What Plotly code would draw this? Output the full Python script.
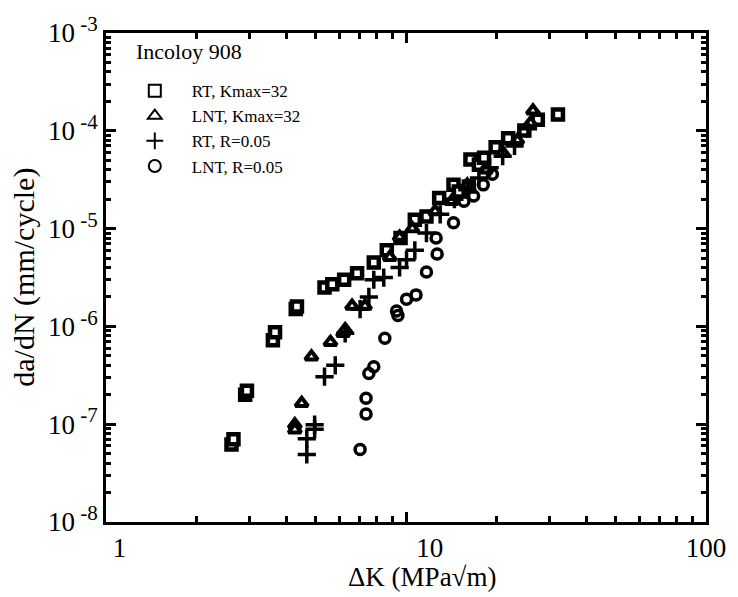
import plotly.graph_objects as go

# RT, Kmax=32 (squares)
sq_dk = [2.62, 2.66, 2.91, 2.95, 3.60, 3.66, 4.29, 4.33, 5.35, 5.68, 6.22, 6.87, 7.81, 8.63, 9.59, 10.7, 11.7, 12.9,
         14.4, 15.0, 16.2, 16.4, 17.5, 18.2, 19.9, 21.9, 24.8, 27.5, 32.1]
sq_da = [6.2e-8, 7.0e-8, 2.0e-7, 2.2e-7, 7.2e-7, 8.7e-7, 1.51e-6, 1.6e-6, 2.5e-6, 2.7e-6, 3.0e-6, 3.5e-6, 4.5e-6,
         6.0e-6, 8.0e-6, 1.23e-5, 1.33e-5, 2.06e-5, 2.8e-5, 2.4e-5, 2.7e-5, 5.1e-5, 4.5e-5, 5.3e-5, 6.8e-5, 8.4e-5,
         1.01e-4, 1.3e-4, 1.47e-4]

# LNT, Kmax=32 (triangles)
tr_dk = [4.26, 4.26, 4.49, 4.84, 5.60, 6.17, 6.27, 6.61, 7.30, 8.83, 9.52, 10.5, 12.5, 14.2, 16.0, 18.5, 21.0, 23.5,
         26.0, 26.5]
tr_da = [9.9e-8, 8.8e-8, 1.64e-7, 4.9e-7, 6.9e-7, 8.5e-7, 9.3e-7, 1.62e-6, 1.62e-6, 5.1e-6, 8.2e-6, 1.0e-5, 1.5e-5,
         1.9e-5, 2.8e-5, 4.0e-5, 6.0e-5, 8.0e-5, 1.2e-4, 1.6e-4]

# RT, R=0.05 (plus)
pl_dk = [4.67, 4.67, 4.96, 4.96, 5.35, 5.81, 6.27, 7.03, 7.52, 7.81, 8.43, 9.52, 10.04, 10.7, 11.7, 13.0, 14.5, 16.0,
         17.5, 19.0, 21.0, 23.0, 25.5]
pl_da = [4.9e-8, 7.1e-8, 9.9e-8, 8.9e-8, 3.06e-7, 4.0e-7, 8.5e-7, 1.5e-6, 2.0e-6, 3.0e-6, 3.16e-6, 4.0e-6, 4.8e-6,
         6.0e-6, 9.0e-6, 1.4e-5, 2.0e-5, 2.5e-5, 3.3e-5, 4.2e-5, 5.5e-5, 7.0e-5, 1.05e-4]

# LNT, R=0.05 (circles)
ci_dk = [7.03, 7.36, 7.36, 7.52, 7.81, 8.5, 9.3, 9.4, 10.04, 10.8, 11.7, 12.7, 12.6, 14.4, 15.6, 16.8, 18.1, 19.4]
ci_da = [5.5e-8, 1.27e-7, 1.84e-7, 3.3e-7, 3.86e-7, 7.55e-7, 1.44e-6, 1.29e-6, 1.9e-6, 2.1e-6, 3.6e-6, 5.5e-6,
         8.0e-6, 1.15e-5, 1.9e-5, 2.15e-5, 2.8e-5, 3.6e-5]

x_major = [1, 10, 100]
x_major_text = ["\u00a0\u00a0\u00a0\u00a01", "\u00a0\u00a0\u00a0\u00a0\u00a0\u00a0\u00a010", "100"]
y_major = [1e-8, 1e-7, 1e-6, 1e-5, 1e-4, 1e-3]
y_major_text = ["10<sup><span style='font-size:21px'> -%d</span></sup>" % k for k in (8, 7, 6, 5, 4, 3)]

x_minor = [m * d for d in (1, 10) for m in range(2, 10)]
y_minor = [m * d for d in (1e-8, 1e-7, 1e-6, 1e-5, 1e-4) for m in range(2, 10)]

FONT = "Liberation Serif"
NB = "\u00a0\u00a0\u00a0\u00a0"

fig = go.Figure()
fig.add_trace(go.Scatter(x=sq_dk, y=sq_da, mode="markers", name=NB + "RT, Kmax=32",
                         marker=dict(symbol="square", size=10, color="white", line=dict(color="black", width=4.5))))
fig.add_trace(go.Scatter(x=tr_dk, y=tr_da, mode="markers", name=NB + "LNT, Kmax=32",
                         marker=dict(symbol="triangle-up", size=11, color="white", line=dict(color="black", width=4))))
fig.add_trace(go.Scatter(x=pl_dk, y=pl_da, mode="markers", name=NB + "RT, R=0.05",
                         marker=dict(symbol="cross-thin", size=13, color="black", line=dict(color="black", width=3.5))))
fig.add_trace(go.Scatter(x=ci_dk, y=ci_da, mode="markers", name=NB + "LNT, R=0.05",
                         marker=dict(symbol="circle-open", size=10, color="black", line=dict(color="black", width=3.5))))

axis_common = dict(showgrid=False, zeroline=False, showline=True, linecolor="black", linewidth=2.5,
                   mirror="ticks", ticks="inside", ticklen=10, tickwidth=2.5, tickcolor="black",
                   tickfont=dict(family=FONT, size=27, color="black"))

fig.update_xaxes(type="log", range=[0, 2], tickmode="array", tickvals=x_major, ticktext=x_major_text,
                 minor=dict(tickmode="array", tickvals=x_minor, ticks="inside", ticklen=6, tickwidth=2.5,
                            tickcolor="black", showgrid=False),
                 **axis_common)
fig.update_yaxes(type="log", range=[-8, -3], tickmode="array", tickvals=y_major, ticktext=y_major_text,
                 minor=dict(tickmode="array", tickvals=y_minor, ticks="inside", ticklen=5, tickwidth=2.5,
                            tickcolor="black", showgrid=False),
                 **axis_common)

# axis titles and legend heading as text annotations
fig.add_annotation(text="ΔK (MPa√m)", xref="paper", yref="paper", x=0.527, y=-0.112,
                   xanchor="center", yanchor="middle", showarrow=False,
                   font=dict(family=FONT, size=27, color="black"))
fig.add_annotation(text="da/dN (mm/cycle)", xref="paper", yref="paper", x=-0.138, y=0.5, textangle=-90,
                   xanchor="center", yanchor="middle", showarrow=False,
                   font=dict(family=FONT, size=30, color="black"))
fig.add_annotation(text="Incoloy 908", xref="paper", yref="paper", x=0.046, y=0.963,
                   xanchor="left", yanchor="middle", showarrow=False,
                   font=dict(family=FONT, size=22, color="black"))

fig.update_layout(
    width=738, height=597,
    margin=dict(l=106, r=25, t=24, b=75),
    paper_bgcolor="white", plot_bgcolor="white",
    font=dict(family=FONT, color="black"),
    showlegend=True,
    legend=dict(x=0.048, y=0.918, xanchor="left", yanchor="top",
                font=dict(family=FONT, size=17, color="black"),
                bgcolor="rgba(0,0,0,0)", tracegroupgap=0, itemsizing="constant"),
)

fig.write_html("out.html", config={"displayModeBar": False},
               post_script="document.body.style.margin='0';document.body.style.overflow='hidden';")
